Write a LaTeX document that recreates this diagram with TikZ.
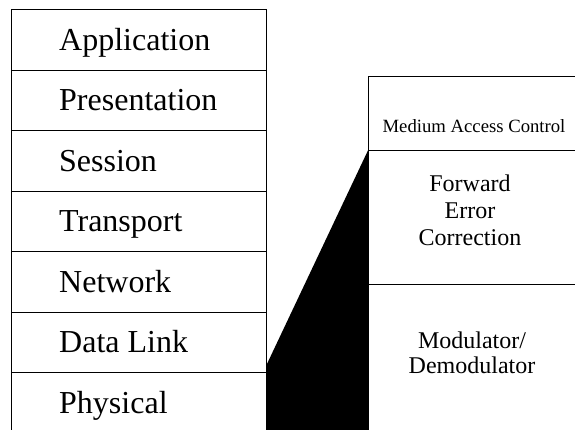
\documentclass[tikz,border=0pt]{standalone}
\usepackage{fontspec}
\setmainfont{Liberation Serif}
\begin{document}
\begin{tikzpicture}[x=1pt,y=-1pt,
  layerbox/.style={draw=black,line width=1.4pt,minimum width=255.5pt,minimum height=60.5pt,inner sep=0pt,anchor=north west},
  layertext/.style={anchor=base west,inner sep=0pt,font=\fontsize{32}{38}\selectfont},
  subbox/.style={draw=black,line width=1.4pt,minimum width=240pt,inner sep=0pt,anchor=north west},
  subtext/.style={align=center,inner sep=0pt}]
\useasboundingbox (0,0) rectangle (575,429);
\clip (0,0) rectangle (575,429);

% OSI reference stack
\node[layerbox] (app)  at (10.5,9)     {};
\node[layerbox] (pres) at (10.5,69.5)  {};
\node[layerbox] (sess) at (10.5,130)   {};
\node[layerbox] (tran) at (10.5,190.5) {};
\node[layerbox] (netw) at (10.5,251)   {};
\node[layerbox] (dlnk) at (10.5,311.5) {};
\node[layerbox] (phys) at (10.5,372)   {};

\node[layertext] (appT)  at (59,50)    {Application};
\node[layertext] (presT) at (59,110.5) {Presentation};
\node[layertext] (sessT) at (59,171)   {Session};
\node[layertext] (tranT) at (59,231.5) {Transport};
\node[layertext] (netwT) at (59,292)   {Network};
\node[layertext] (dlnkT) at (59,352.5) {Data Link};
\node[layertext] (physT) at (59,413)   {Physical};

% Expanded lower layers
\node[subbox,minimum height=74pt]  (mac) at (367.5,76)  {};
\node[subbox,minimum height=134pt] (fec) at (367.5,150) {};
\node[subbox,minimum height=170pt] (mod) at (367.5,284) {};

\node[anchor=base,inner sep=0pt,font=\fontsize{18.7}{22}\selectfont] (macT) at (474,132.7) {Medium Access Control};
\node[subtext,font=\fontsize{24}{27}\selectfont] (fecT) at (470,210.5) {Forward\\Error\\Correction};
\node[subtext,font=\fontsize{24}{25}\selectfont] (modT) at (472,352.5) {Modulator/\\Demodulator};

% Wedge linking the physical layer to its expansion
\coordinate (wedgeTop) at (mac.south west);
\coordinate (wedgeLow) at (266,366);
\fill[black] (wedgeTop) -- (wedgeLow) -- (266,440) -- (368.2,440) -- (368.2,150) -- cycle;
\end{tikzpicture}
\end{document}
